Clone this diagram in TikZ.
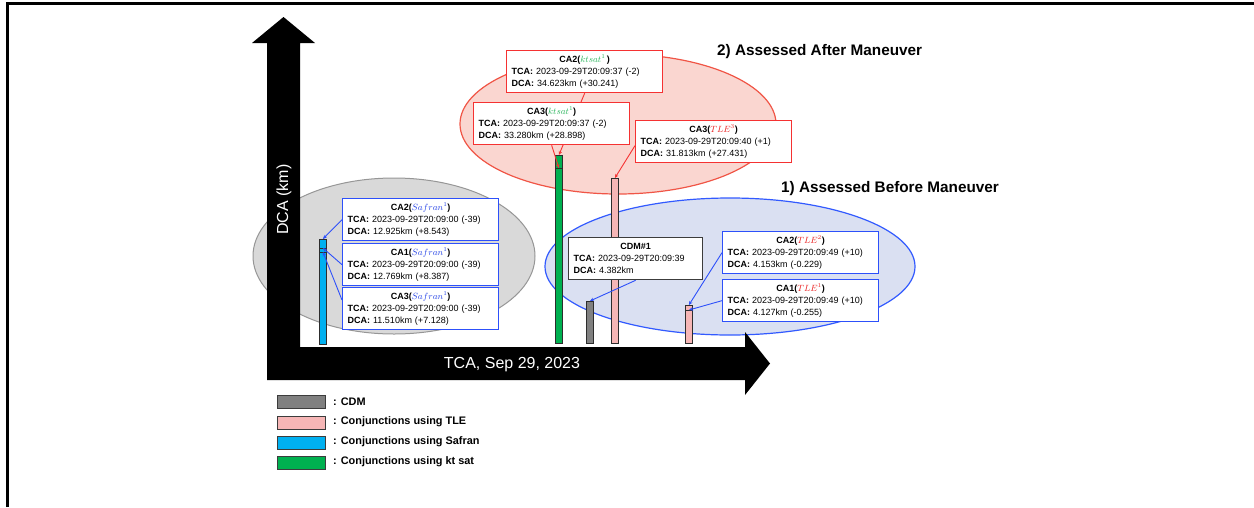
\documentclass[tikz,border=0pt]{standalone}
\usepackage{fontspec}
\setmainfont{Liberation Sans}
\usetikzlibrary{arrows.meta,calc}
\definecolor{boxred}{RGB}{245,50,50}
\definecolor{boxblue}{RGB}{45,80,250}
\definecolor{boxdark}{RGB}{60,60,60}
\definecolor{ellgrayfill}{RGB}{217,217,217}
\definecolor{ellgraydraw}{RGB}{150,150,150}
\definecolor{ellredfill}{RGB}{250,214,208}
\definecolor{ellreddraw}{RGB}{240,85,70}
\definecolor{ellbluefill}{RGB}{218,224,242}
\definecolor{ellbluedraw}{RGB}{50,90,255}
\definecolor{cyanbar}{RGB}{0,176,240}
\definecolor{greenbar}{RGB}{0,176,80}
\definecolor{graybar}{RGB}{128,128,128}
\definecolor{pinkbar}{RGB}{246,182,182}
\definecolor{barline}{RGB}{45,45,45}
\definecolor{ktgreen}{RGB}{40,180,90}
\definecolor{safblue}{RGB}{35,65,230}
\definecolor{tlered}{RGB}{235,35,35}
\pgfdeclarelayer{bg}
\pgfdeclarelayer{mid}
\pgfsetlayers{bg,mid,main}
\newcommand{\cattl}[2]{\makebox[146pt][c]{\textbf{#1(}#2\textbf{)}}}
\begin{document}
\begin{tikzpicture}[x=1pt,y=-1pt,
  cabox/.style={draw=#1, line width=1.3pt, fill=white, rectangle, anchor=north west,
    text width=146pt, inner xsep=5pt, inner ysep=2pt, minimum height=42pt, align=left,
    font=\fontsize{9}{12}\selectfont},
  barseg/.style={draw=barline, line width=0.8pt, rectangle, anchor=north west, inner sep=0pt,
    minimum width=7pt},
  conR/.style={draw=boxred, line width=0.9pt, -{Stealth[length=4pt,width=3.5pt]}},
  conB/.style={draw=boxblue, line width=0.9pt, -{Stealth[length=4pt,width=3.5pt]}},
  swatch/.style={draw=boxdark, line width=1.2pt, rectangle, anchor=north west, inner sep=0pt,
    minimum width=48pt, minimum height=13pt},
  legtext/.style={anchor=west, inner sep=0pt, font=\fontsize{10.9}{12}\selectfont\bfseries},
  headline/.style={anchor=west, inner sep=0pt, font=\fontsize{15.3}{17}\selectfont\bfseries},
  axlabel/.style={text=white, inner sep=0pt, font=\fontsize{16}{18}\selectfont}
]
\useasboundingbox (0,0) rectangle (1254,507);
% frame
\draw[line width=3pt] (7.5,507) -- (7.5,3.5) -- (1254,3.5);

\begin{pgfonlayer}{bg}
% ellipses
\fill[ellgrayfill, draw=ellgraydraw, line width=1pt] (394,256) ellipse [x radius=141, y radius=78];
\fill[ellredfill, draw=ellreddraw, line width=1.2pt] (618,124) ellipse [x radius=158, y radius=70];
\fill[ellbluefill, draw=ellbluedraw, line width=1.2pt] (730,266.5) ellipse [x radius=185, y radius=68.5];
% axes
\fill[black] (267,380) -- (267,43) -- (252,43) -- (283.5,17) -- (315,43) -- (300,43)
  -- (300,347) -- (745,347) -- (745,332) -- (770,363.5) -- (745,395) -- (745,380) -- cycle;
% bars
\node[barseg, fill=cyanbar, minimum height=9pt] (sA) at (319,239) {};
\node[barseg, fill=cyanbar, minimum height=4pt] (sB) at (319,248) {};
\node[barseg, fill=cyanbar, minimum height=92pt] (sC) at (319,252) {};
\node[barseg, fill=greenbar, minimum height=13pt] (gA) at (555,155) {};
\node[barseg, fill=greenbar, minimum height=175pt] (gB) at (555,168) {};
\node[barseg, fill=graybar, minimum height=42pt] (cdmbar) at (586,301) {};
\node[barseg, fill=pinkbar, minimum height=165pt] (tleA) at (611,178) {};
\node[barseg, fill=pinkbar, minimum height=5pt] (tA) at (685,305) {};
\node[barseg, fill=pinkbar, minimum height=33pt] (tB) at (685,310) {};
\end{pgfonlayer}

% axis labels
\node[axlabel] (xlab) at (512,365) {TCA, Sep 29, 2023};
\node[axlabel, rotate=90] (ylab) at (284,199.5) {DCA (km)};

% headings
\node[headline] (after) at (717,51.5) {2) Assessed After Maneuver};
\node[headline] (before) at (781,189) {1) Assessed Before Maneuver};

% boxes
\node[cabox=boxred] (CA2k) at (506,50) {\cattl{CA2}{$\color{ktgreen}ktsat^1$\,}\\\textbf{TCA:} 2023-09-29T20:09:37 (-2)\\\textbf{DCA:} 34.623km (+30.241)};
\node[cabox=boxred] (CA3k) at (473,102) {\cattl{CA3}{$\color{ktgreen}ktsat^1$}\\\textbf{TCA:} 2023-09-29T20:09:37 (-2)\\\textbf{DCA:} 33.280km (+28.898)};
\node[cabox=boxred] (CA3T) at (635,120) {\cattl{CA3}{$\color{tlered}TLE^3$}\\\textbf{TCA:} 2023-09-29T20:09:40 (+1)\\\textbf{DCA:} 31.813km (+27.431)};
\node[cabox=boxblue] (CA2S) at (342,198) {\cattl{CA2}{$\color{safblue}Safran^1$}\\\textbf{TCA:} 2023-09-29T20:09:00 (-39)\\\textbf{DCA:} 12.925km (+8.543)};
\node[cabox=boxblue] (CA1S) at (342,243) {\cattl{CA1}{$\color{safblue}Safran^1$}\\\textbf{TCA:} 2023-09-29T20:09:00 (-39)\\\textbf{DCA:} 12.769km (+8.387)};
\node[cabox=boxblue] (CA3S) at (342,287) {\cattl{CA3}{$\color{safblue}Safran^1$}\\\textbf{TCA:} 2023-09-29T20:09:00 (-39)\\\textbf{DCA:} 11.510km (+7.128)};
\node[cabox=boxblue] (CA2T) at (722,231) {\cattl{CA2}{$\color{tlered}TLE^2$}\\\textbf{TCA:} 2023-09-29T20:09:49 (+10)\\\textbf{DCA:} 4.153km (-0.229)};
\node[cabox=boxblue] (CA1T) at (722,279) {\cattl{CA1}{$\color{tlered}TLE^1$}\\\textbf{TCA:} 2023-09-29T20:09:49 (+10)\\\textbf{DCA:} 4.127km (-0.255)};
\node[cabox=boxdark, text width=124pt] (CDM) at (568,237) {\makebox[124pt][c]{\textbf{CDM\#1}}\\\textbf{TCA:} 2023-09-29T20:09:39\\\textbf{DCA:} 4.382km};

% connectors
\begin{pgfonlayer}{mid}
\draw[conR] (CA2k.south) -- (gA.north);
\draw[conR] (CA3k.south) -- (gB.north);
\draw[conR] ([yshift=-4pt]CA3T.west) -- (tleA.north);
\draw[conB] (CA2S.west) -- (sA.north);
\draw[conB] (CA1S.west) -- (sB.north);
\draw[conB] ([yshift=-13pt]CA3S.north west) -- (sC.north);
\draw[conB] (CDM.south) -- (cdmbar.north);
\draw[conB] (CA2T.west) -- (tA.north);
\draw[conB] (CA1T.west) -- (tB.north);
\end{pgfonlayer}

% legend
\node[swatch, fill=graybar] (lg1) at (277,395) {};
\node[swatch, fill=pinkbar] (lg2) at (277,415.5) {};
\node[swatch, fill=cyanbar] (lg3) at (277,435.5) {};
\node[swatch, fill=greenbar] (lg4) at (277,455.5) {};
\node[legtext] (lt1) at (333,401.5) {: CDM};
\node[legtext] (lt2) at (333,422) {: Conjunctions using TLE};
\node[legtext] (lt3) at (333,442) {: Conjunctions using Safran};
\node[legtext] (lt4) at (333,462) {: Conjunctions using kt sat};
\end{tikzpicture}
\end{document}
